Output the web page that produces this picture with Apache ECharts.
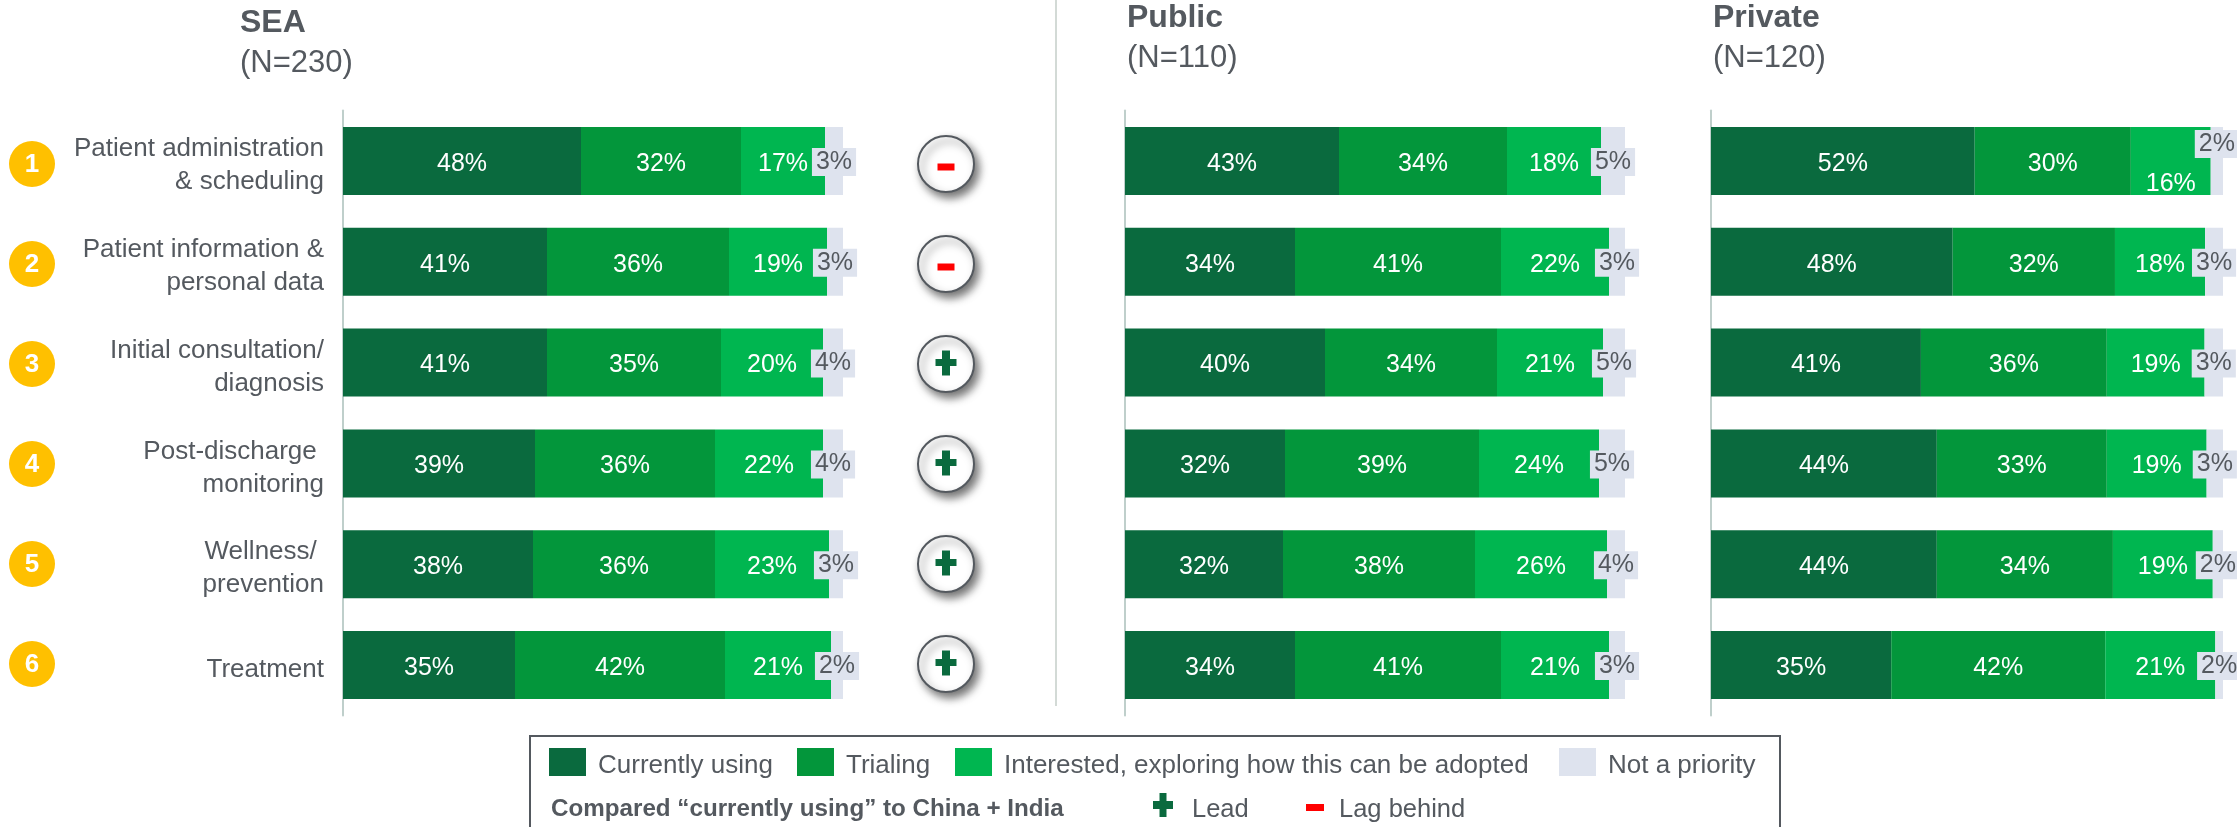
<!DOCTYPE html>
<html>
<head>
<meta charset="utf-8">
<style>html,body{margin:0;padding:0;background:#fff}#c{width:2237px;height:827px}</style>
<script src="https://cdn.jsdelivr.net/npm/echarts@6/dist/echarts.min.js"></script>
</head>
<body>
<div id="c"></div>
<script>
const categories = ['Patient administration\n& scheduling','Patient information &\npersonal data','Initial consultation/\ndiagnosis','Post-discharge \nmonitoring','Wellness/ \nprevention','Treatment'];
const badges = ['1','2','3','4','5','6'];
const comparedToChinaIndia = ['lag','lag','lead','lead','lead','lead'];
const seriesNames = ['Currently using','Trialing','Interested, exploring how this can be adopted','Not a priority'];

// Segment lengths (share of each 100% bar)
const seaCurrently  = [47.6,40.8,40.8,38.4,38.0,34.4];
const seaTrialing   = [32.0,36.4,34.8,36.0,36.4,42.0];
const seaInterested = [16.8,19.6,20.4,21.6,22.8,21.2];
const seaNotPrio    = [3.6,3.2,4.0,4.0,2.8,2.4];
const pubCurrently  = [42.8,34.0,40.0,32.0,31.6,34.0];
const pubTrialing   = [33.6,41.2,34.4,38.8,38.4,41.2];
const pubInterested = [18.8,21.6,21.2,24.0,26.4,21.6];
const pubNotPrio    = [4.8,3.2,4.4,5.2,3.6,3.2];
const priCurrently  = [51.5,47.2,41.0,44.1,44.1,35.2];
const priTrialing   = [30.5,31.7,36.3,33.2,34.4,41.8];
const priInterested = [15.6,17.6,19.1,19.5,19.5,21.5];
const priNotPrio    = [2.4,3.5,3.6,3.2,2.0,1.5];

// Printed percentages
const seaLabels1 = [48,41,41,39,38,35], seaLabels2 = [32,36,35,36,36,42], seaLabels3 = [17,19,20,22,23,21], seaLabels4 = [3,3,4,4,3,2];
const pubLabels1 = [43,34,40,32,32,34], pubLabels2 = [34,41,34,39,38,41], pubLabels3 = [18,22,21,24,26,21], pubLabels4 = [5,3,5,5,4,3];
const priLabels1 = [52,48,41,44,44,35], priLabels2 = [30,32,36,33,34,42], priLabels3 = [16,18,19,19,19,21], priLabels4 = [2,3,3,3,2,2];

const GREY = '#54595F', FONT = '"Liberation Sans", Arial, sans-serif';
const colors = ['#0A6A3E','#03963B','#00B650','#DEE3EE'];
const panels = [
  {title:'SEA', sub:'(N=230)', left:343, width:500, vals:[seaCurrently,seaTrialing,seaInterested,seaNotPrio], labs:[seaLabels1,seaLabels2,seaLabels3,seaLabels4], tx:240, ty:5},
  {title:'Public', sub:'(N=110)', left:1125, width:500, vals:[pubCurrently,pubTrialing,pubInterested,pubNotPrio], labs:[pubLabels1,pubLabels2,pubLabels3,pubLabels4], tx:1127, ty:0},
  {title:'Private', sub:'(N=120)', left:1711, width:512, vals:[priCurrently,priTrialing,priInterested,priNotPrio], labs:[priLabels1,priLabels2,priLabels3,priLabels4], tx:1713, ty:0}
];
const GRID_TOP = 110.6, GRID_H = 604.8;

const grid = [], xAxis = [], yAxis = [], series = [], title = [];
panels.forEach((p, pi) => {
  grid.push({left:p.left, width:p.width, top:GRID_TOP, height:GRID_H, containLabel:false});
  xAxis.push({type:'value', gridIndex:pi, min:0, max:100, show:false});
  yAxis.push({type:'category', gridIndex:pi, inverse:true, data:categories, offset:1,
    axisTick:{show:false},
    axisLine:{show:true, lineStyle:{color:'#BFCFCB', width:2}},
    axisLabel:{show:pi===0, margin:18, align:'right',
      formatter:v => '{g|}\n' + v.split('\n').map(l => '{t|' + l + '}').join('\n'),
      rich:{
        g:{height:9, lineHeight:9, fontSize:1},
        t:{color:GREY, fontFamily:FONT, fontSize:26, lineHeight:33, align:'right'}
      }}
  });
  title.push({text:p.title, subtext:p.sub, left:p.tx, top:p.ty, itemGap:4, padding:0,
    textStyle:{color:GREY, fontFamily:FONT, fontSize:32, fontWeight:'bold', lineHeight:36},
    subtextStyle:{color:GREY, fontFamily:FONT, fontSize:31, lineHeight:36}});
  seriesNames.forEach((name, si) => {
    const isLast = si === 3;
    series.push({
      name, type:'bar', stack:'s'+pi, xAxisIndex:pi, yAxisIndex:pi, barWidth:68, z:2+si,
      itemStyle:{color:colors[si]},
      data:p.vals[si].map((v, ri) => {
        const d = {value:v};
        // Private, first row: two labels sit off-centre in the source
        if (pi === 2 && ri === 0 && si === 2) d.label = {offset:[0,23]};
        if (pi === 2 && ri === 0 && si === 3) d.label = {offset:[0,-17]};
        return d;
      }),
      label:{show:true, position:'inside', fontFamily:FONT, fontSize:25,
        color:isLast ? GREY : '#fff',
        backgroundColor:isLast ? colors[3] : 'transparent',
        lineHeight:isLast ? 24 : 25,
        padding:isLast ? [4,4,0,4] : 0,
        offset:isLast ? [0,1] : [0,3],
        formatter:o => p.labs[si][o.dataIndex] + '%'}
    });
  });
});

// Numbered badges and lead/lag markers positioned from the SEA grid's scales
series.push({
  type:'custom', xAxisIndex:0, yAxisIndex:0, z:10, silent:true, clip:false,
  encode:{x:0, y:1},
  data:categories.map((c,i)=>[0,i]),
  renderItem(params, api){
    const i = api.value(1);
    const base = api.coord([0,i]), end = api.coord([100,i]);
    // markers step slightly tighter than the bars in the source
    const y = base[1] + 3 - 0.8*i;
    const bx = base[0]-311, cx = end[0]+103;
    const kids = [
      {type:'circle', shape:{cx:bx, cy:y, r:23}, style:{fill:'#FFC000'}},
      {type:'text', style:{text:badges[i], x:bx, y:y+1, fill:'#fff', font:'bold 26px '+FONT, align:'center', verticalAlign:'middle'}},
      {type:'circle', shape:{cx, cy:y, r:28}, style:{fill:'#fff', stroke:GREY, lineWidth:2, shadowBlur:9, shadowOffsetX:4, shadowOffsetY:5, shadowColor:'rgba(0,0,0,0.55)'}}
    ];
    if (comparedToChinaIndia[i]==='lag') {
      kids.push({type:'rect', shape:{x:cx-8.5, y:y-0.5, width:17, height:7}, style:{fill:'#FF0000'}});
    } else {
      kids.push({type:'rect', shape:{x:cx-10.5, y:y-5, width:21, height:7}, style:{fill:colors[0]}});
      kids.push({type:'rect', shape:{x:cx-4, y:y-13.5, width:8, height:25}, style:{fill:colors[0]}});
    }
    return {type:'group', children:kids};
  }
});

const legendLeft = [549,797,955,1559];
const legend = seriesNames.map((n,i)=>({
  data:[n], left:legendLeft[i], top:745, padding:0, icon:'rect', itemWidth:37, itemHeight:28, selectedMode:false,
  formatter:name => '{g|}\n{t|' + name + '}',
  textStyle:{color:GREY, fontFamily:FONT, fontSize:26,
    rich:{ g:{height:8, lineHeight:8, fontSize:1},
           t:{color:GREY, fontFamily:FONT, fontSize:26, padding:[0,0,0,7]} }}
}));

const txt = (text,x,y,font)=>({type:'text', left:x, top:y, style:{text, fill:GREY, font:font+' '+FONT}});
const graphic = [
  {type:'rect', shape:{x:530,y:736,width:1250,height:120}, style:{fill:'none', stroke:GREY, lineWidth:2}, z:-1},
  {type:'line', shape:{x1:1056,y1:0,x2:1056,y2:706}, style:{stroke:'#D3DAD6', lineWidth:2}},
  txt('Compared \u201Ccurrently using\u201D to China + India',551,797,'bold 24.2px'),
  {type:'rect', shape:{x:1153,y:801,width:20,height:8}, style:{fill:colors[0]}},
  {type:'rect', shape:{x:1159.5,y:793,width:7,height:24}, style:{fill:colors[0]}},
  txt('Lead',1192,797,'25.5px'),
  {type:'rect', shape:{x:1306,y:804,width:18,height:7}, style:{fill:'#FF0000'}},
  txt('Lag behind',1339,797,'25.5px')
];

const chart = echarts.init(document.getElementById('c'), null, {renderer:'canvas'});
chart.setOption({animation:false, backgroundColor:'#fff', title, grid, xAxis, yAxis, series, legend, graphic, tooltip:{show:false}});
</script>
</body>
</html>
